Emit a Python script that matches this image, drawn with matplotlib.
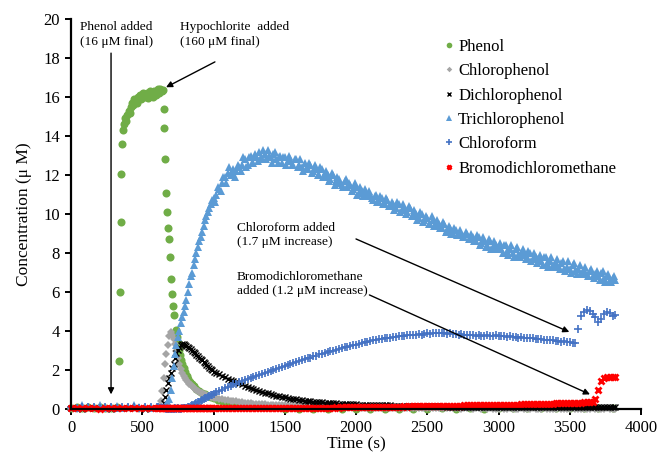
import matplotlib
matplotlib.use("Agg")
import matplotlib.pyplot as plt

plt.rcParams['font.family'] = ['Liberation Serif', 'DejaVu Serif']

# ---------------- data ----------------
# shared sampling times (s) for the chlorinated products
time_s = [
    0, 40, 80, 120, 160, 200, 240, 280, 320, 360,
    400, 440, 480, 520, 560,
    600, 610, 620, 630, 640, 650, 660, 670, 680, 690,
    700, 710, 720, 730, 740, 750, 760, 770, 780, 790,
    800, 810, 820, 830, 840, 850, 860, 870, 880, 890,
    900, 910, 920, 930, 940, 950, 960, 970, 980, 990,
    1000, 1020, 1040, 1060, 1080, 1100, 1120, 1140, 1160, 1180,
    1200, 1220, 1240, 1260, 1280, 1300, 1320, 1340, 1360, 1380,
    1400, 1420, 1440, 1460, 1480, 1500, 1520, 1540, 1560, 1580,
    1600, 1620, 1640, 1660, 1680, 1700, 1720, 1740, 1760, 1780,
    1800, 1820, 1840, 1860, 1880, 1900, 1920, 1940, 1960, 1980,
    2000, 2020, 2040, 2060, 2080, 2100, 2120, 2140, 2160, 2180,
    2200, 2220, 2240, 2260, 2280, 2300, 2320, 2340, 2360, 2380,
    2400, 2420, 2440, 2460, 2480, 2500, 2520, 2540, 2560, 2580,
    2600, 2620, 2640, 2660, 2680, 2700, 2720, 2740, 2760, 2780,
    2800, 2820, 2840, 2860, 2880, 2900, 2920, 2940, 2960, 2980,
    3000, 3020, 3040, 3060, 3080, 3100, 3120, 3140, 3160, 3180,
    3200, 3220, 3240, 3260, 3280, 3300, 3320, 3340, 3360, 3380,
    3400, 3420, 3440, 3460, 3480, 3500, 3520, 3540, 3560, 3580,
    3600, 3620, 3640, 3660, 3680, 3700, 3720, 3740, 3760, 3780,
    3800, 3820,
]

chlorophenol = [
    0.04, 0.02, 0.05, 0.03, 0.04, 0.02, 0.05, 0.03, 0.04, 0.05,
    0.03, 0.04, 0.02, 0.05, 0.03,
    0.04, 0.05, 0.10, 0.40, 0.90, 1.60, 2.30, 2.80, 3.30, 3.75,
    3.95, 3.80, 3.60, 3.35, 3.00, 2.60, 2.30, 2.05, 1.85, 1.70,
    1.58, 1.48, 1.40, 1.30, 1.22, 1.16, 1.10, 1.04, 0.98, 0.93,
    0.88, 0.84, 0.80, 0.77, 0.74, 0.71, 0.68, 0.65, 0.62, 0.60,
    0.58, 0.55, 0.52, 0.50, 0.47, 0.45, 0.43, 0.41, 0.39, 0.37,
    0.35, 0.33, 0.31, 0.30, 0.28, 0.27, 0.26, 0.25, 0.24, 0.23,
    0.22, 0.21, 0.20, 0.19, 0.19, 0.18, 0.17, 0.17, 0.16, 0.16,
    0.15, 0.15, 0.14, 0.14, 0.13, 0.13, 0.12, 0.12, 0.12, 0.11,
    0.11, 0.11, 0.10, 0.10, 0.10, 0.09, 0.09, 0.09, 0.08, 0.08,
    0.08, 0.08, 0.07, 0.07, 0.07, 0.07, 0.06, 0.06, 0.06, 0.06,
    0.06, 0.05, 0.05, 0.05, 0.05, 0.05, 0.05, 0.04, 0.04, 0.04,
    0.04, 0.05, 0.04, 0.03, 0.04, 0.04, 0.03, 0.04, 0.03, 0.04,
    0.03, 0.04, 0.03, 0.03, 0.04, 0.03, 0.03, 0.02, 0.03, 0.03,
    0.03, 0.02, 0.03, 0.03, 0.02, 0.03, 0.02, 0.03, 0.02, 0.02,
    0.02, 0.03, 0.02, 0.02, 0.03, 0.02, 0.02, 0.02, 0.03, 0.02,
    0.02, 0.02, 0.03, 0.02, 0.02, 0.02, 0.03, 0.02, 0.02, 0.02,
    0.02, 0.03, 0.02, 0.02, 0.02, 0.02, 0.03, 0.02, 0.02, 0.02,
    0.02, 0.02, 0.02, 0.03, 0.02, 0.02, 0.02, 0.02, 0.03, 0.02,
    0.02, 0.02,
]

dichlorophenol = [
    0.03, 0.05, 0.02, 0.04, 0.03, 0.05, 0.04, 0.02, 0.03, 0.04,
    0.05, 0.03, 0.04, 0.02, 0.03,
    0.03, 0.03, 0.04, 0.05, 0.10, 0.30, 0.60, 1.00, 1.35, 1.60,
    1.85, 2.10, 2.30, 2.60, 2.85, 3.05, 3.20, 3.30, 3.35, 3.35,
    3.30, 3.25, 3.20, 3.15, 3.08, 3.00, 2.92, 2.85, 2.78, 2.70,
    2.63, 2.56, 2.49, 2.42, 2.35, 2.28, 2.20, 2.12, 2.05, 1.98,
    1.92, 1.85, 1.78, 1.70, 1.63, 1.56, 1.50, 1.44, 1.38, 1.32,
    1.26, 1.20, 1.14, 1.08, 1.02, 0.97, 0.92, 0.88, 0.84, 0.80,
    0.76, 0.72, 0.68, 0.65, 0.62, 0.59, 0.56, 0.53, 0.51, 0.49,
    0.47, 0.45, 0.43, 0.41, 0.39, 0.38, 0.36, 0.35, 0.34, 0.33,
    0.32, 0.31, 0.30, 0.29, 0.28, 0.27, 0.26, 0.26, 0.25, 0.24,
    0.24, 0.23, 0.22, 0.22, 0.21, 0.21, 0.20, 0.20, 0.19, 0.19,
    0.18, 0.18, 0.18, 0.17, 0.17, 0.17, 0.16, 0.16, 0.16, 0.15,
    0.15, 0.15, 0.15, 0.14, 0.14, 0.14, 0.14, 0.13, 0.13, 0.13,
    0.13, 0.13, 0.12, 0.12, 0.12, 0.12, 0.12, 0.11, 0.11, 0.11,
    0.11, 0.11, 0.11, 0.10, 0.10, 0.10, 0.10, 0.10, 0.10, 0.10,
    0.10, 0.09, 0.10, 0.09, 0.10, 0.09, 0.09, 0.10, 0.09, 0.09,
    0.09, 0.09, 0.08, 0.09, 0.09, 0.08, 0.09, 0.08, 0.09, 0.08,
    0.08, 0.09, 0.08, 0.08, 0.09, 0.08, 0.08, 0.08, 0.09, 0.08,
    0.08, 0.08, 0.09, 0.08, 0.08, 0.08, 0.09, 0.08, 0.08, 0.08,
    0.08, 0.08,
]

trichlorophenol = [
    0.12, 0.05, 0.20, 0.08, 0.10, 0.22, 0.06, 0.12, 0.15, 0.04,
    0.10, 0.18, 0.08, 0.12, 0.06,
    0.10, 0.08, 0.12, 0.10, 0.10, 0.12, 0.15, 0.20, 0.30, 0.50,
    1.00, 1.60, 2.20, 2.80, 3.30, 3.70, 4.00, 4.40, 4.70, 5.00,
    5.30, 5.60, 6.00, 6.40, 6.80, 7.00, 7.40, 7.70, 8.00, 8.30,
    8.60, 8.80, 9.10, 9.40, 9.70, 9.90, 10.10, 10.30, 10.50, 10.70,
    10.8, 11.0, 11.3, 11.6, 11.9, 12.1, 12.0, 12.3, 12.2, 12.4,
    12.5, 12.8, 12.5, 13.0, 12.6, 12.9, 13.2, 12.8, 13.1, 13.3,
    12.9, 13.1, 12.8, 12.9, 12.6, 12.9, 12.7, 12.8, 12.5, 12.8,
    12.5, 12.4, 12.6, 12.3, 12.5, 12.2, 12.3, 12.0, 12.3, 11.9,
    12.0, 11.8, 12.0, 11.7, 11.8, 11.5, 11.7, 11.4, 11.5, 11.3,
    11.4, 11.1, 11.2, 11.3, 10.9, 11.0, 10.7, 11.0, 10.6, 10.8,
    10.5, 10.7, 10.4, 10.5, 10.3, 10.5, 10.2, 10.3, 10.1, 10.3,
    9.9, 10.0, 9.8, 10.0, 9.7, 9.8, 9.5, 9.7, 9.4, 9.5,
    9.3, 9.5, 9.2, 9.3, 9.0, 9.2, 8.9, 9.0, 8.8, 9.0,
    8.7, 8.8, 8.6, 8.8, 8.5, 8.6, 8.4, 8.6, 8.3, 8.4,
    8.3, 8.2, 8.4, 8.1, 8.2, 8.0, 8.2, 7.9, 8.0, 7.9,
    7.8, 8.0, 7.7, 7.8, 7.7, 7.6, 7.8, 7.5, 7.6, 7.4,
    7.5, 7.3, 7.5, 7.2, 7.3, 7.2, 7.4, 7.1, 7.2, 7.0,
    7.1, 6.9, 7.1, 6.8, 6.9, 6.8, 7.0, 6.7, 6.8, 6.6,
    6.7, 6.6,
]

# extra trichlorophenol readings taken between the 20 s samples
trichlorophenol_mid_time_s = [
    1010, 1030, 1050, 1070, 1090, 1110, 1130, 1150, 1170, 1190,
    1210, 1230, 1250, 1270, 1290, 1310, 1330, 1350, 1370, 1390,
    1410, 1430, 1450, 1470, 1490, 1510, 1530, 1550, 1570, 1590,
    1610, 1630, 1650, 1670, 1690, 1710, 1730, 1750, 1770, 1790,
    1810, 1830, 1850, 1870, 1890, 1910, 1930, 1950, 1970, 1990,
    2010, 2030, 2050, 2070, 2090, 2110, 2130, 2150, 2170, 2190,
    2210, 2230, 2250, 2270, 2290, 2310, 2330, 2350, 2370, 2390,
    2410, 2430, 2450, 2470, 2490, 2510, 2530, 2550, 2570, 2590,
    2610, 2630, 2650, 2670, 2690, 2710, 2730, 2750, 2770, 2790,
    2810, 2830, 2850, 2870, 2890, 2910, 2930, 2950, 2970, 2990,
    3010, 3030, 3050, 3070, 3090, 3110, 3130, 3150, 3170, 3190,
    3210, 3230, 3250, 3270, 3290, 3310, 3330, 3350, 3370, 3390,
    3410, 3430, 3450, 3470, 3490, 3510, 3530, 3550, 3570, 3590,
    3610, 3630, 3650, 3670, 3690, 3710, 3730, 3750, 3770, 3790,
    3810,
]
trichlorophenol_mid = [
    10.6, 11.4, 11.2, 11.9, 11.6, 12.4, 12.1, 11.9, 12.5, 12.2,
    12.9, 12.4, 12.9, 12.6, 13.1, 12.7, 12.9, 13.3, 12.8, 13.0,
    12.6, 13.2, 12.6, 13.0, 12.9, 12.5, 13.0, 12.5, 12.8, 12.4,
    12.8, 12.2, 12.3, 12.6, 12.1, 12.5, 12.0, 12.4, 11.9, 12.2,
    11.7, 12.1, 11.5, 11.9, 11.6, 11.4, 11.8, 11.6, 11.2, 11.6,
    11.0, 11.4, 10.9, 11.1, 11.2, 10.8, 10.9, 10.6, 10.9, 10.5,
    10.8, 10.4, 10.6, 10.2, 10.6, 10.1, 10.5, 10.0, 10.4, 9.9,
    10.2, 9.7, 10.1, 9.6, 9.9, 9.5, 9.9, 9.4, 9.7, 9.3,
    9.6, 9.1, 9.4, 9.0, 9.3, 8.9, 9.2, 8.8, 9.1, 8.7,
    9.0, 8.6, 8.9, 8.4, 8.8, 8.3, 8.7, 8.2, 8.6, 8.2,
    8.5, 8.0, 8.4, 7.9, 8.4, 7.8, 8.3, 7.8, 8.2, 7.7,
    8.1, 7.6, 8.0, 7.5, 7.9, 7.4, 7.8, 7.3, 7.8, 7.3,
    7.7, 7.2, 7.6, 7.1, 7.6, 7.0, 7.5, 6.9, 7.4, 6.9,
    7.3, 6.8, 7.2, 6.7, 7.1, 6.6, 7.1, 6.5, 6.9, 6.5,
    6.8,
]

chloroform = [
    0.10, 0.06, 0.12, 0.08, 0.10, 0.06, 0.11, 0.09, 0.07, 0.12,
    0.08, 0.10, 0.06, 0.11, 0.09,
    0.08, 0.10, 0.07, 0.05, 0.04, 0.03, 0.03, 0.02, 0.02, 0.02,
    0.02, 0.02, 0.02, 0.03, 0.02, 0.03, 0.02, 0.02, 0.03, 0.03,
    0.04, 0.05, 0.08, 0.10, 0.14, 0.18, 0.22, 0.26, 0.30, 0.34,
    0.38, 0.42, 0.46, 0.50, 0.54, 0.58, 0.62, 0.66, 0.70, 0.74,
    0.78, 0.86, 0.92, 1.00, 1.08, 1.12, 1.20, 1.26, 1.30, 1.36,
    1.42, 1.47, 1.52, 1.60, 1.64, 1.70, 1.76, 1.80, 1.86, 1.90,
    1.96, 2.00, 2.06, 2.10, 2.16, 2.20, 2.26, 2.30, 2.36, 2.40,
    2.44, 2.50, 2.54, 2.60, 2.64, 2.70, 2.74, 2.80, 2.84, 2.88,
    2.92, 2.96, 3.00, 3.04, 3.08, 3.12, 3.16, 3.20, 3.24, 3.28,
    3.30, 3.34, 3.38, 3.42, 3.45, 3.48, 3.52, 3.55, 3.58, 3.60,
    3.62, 3.64, 3.66, 3.70, 3.70, 3.72, 3.74, 3.76, 3.78, 3.78,
    3.80, 3.82, 3.84, 3.82, 3.86, 3.88, 3.86, 3.90, 3.88, 3.90,
    3.92, 3.88, 3.86, 3.90, 3.84, 3.86, 3.82, 3.84, 3.80, 3.82,
    3.78, 3.80, 3.76, 3.78, 3.74, 3.76, 3.78, 3.74, 3.76, 3.78,
    3.76, 3.72, 3.74, 3.70, 3.72, 3.68, 3.70, 3.66, 3.68, 3.64,
    3.66, 3.62, 3.64, 3.60, 3.58, 3.60, 3.56, 3.54, 3.56, 3.52,
    3.50, 3.48, 3.46, 3.48, 3.44, 3.42, 3.40, 3.38, 4.10, 4.75,
    5.00, 5.08, 5.02, 4.85, 4.70, 4.45, 4.60, 4.85, 5.00, 4.90,
    4.75, 4.80,
]

bromodichloromethane = [
    0.05, 0.03, 0.06, 0.04, 0.05, 0.02, 0.06, 0.04, 0.05, 0.03,
    0.04, 0.06, 0.03, 0.05, 0.04,
    0.04, 0.03, 0.04, 0.03, 0.04, 0.03, 0.03, 0.04, 0.03, 0.04,
    0.03, 0.03, 0.04, 0.03, 0.03, 0.04, 0.03, 0.03, 0.04, 0.03,
    0.03, 0.04, 0.03, 0.03, 0.04, 0.03, 0.03, 0.04, 0.03, 0.03,
    0.04, 0.03, 0.03, 0.04, 0.03, 0.03, 0.04, 0.03, 0.03, 0.04,
    0.03, 0.03, 0.04, 0.03, 0.03, 0.04, 0.03, 0.04, 0.03, 0.04,
    0.04, 0.03, 0.04, 0.04, 0.04, 0.03, 0.04, 0.04, 0.05, 0.04,
    0.04, 0.05, 0.04, 0.05, 0.05, 0.04, 0.05, 0.05, 0.05, 0.06,
    0.05, 0.06, 0.05, 0.06, 0.06, 0.06, 0.06, 0.07, 0.06, 0.07,
    0.07, 0.07, 0.07, 0.08, 0.07, 0.08, 0.08, 0.08, 0.08, 0.09,
    0.09, 0.09, 0.09, 0.10, 0.09, 0.10, 0.10, 0.10, 0.10, 0.11,
    0.11, 0.11, 0.11, 0.12, 0.12, 0.12, 0.12, 0.13, 0.12, 0.13,
    0.13, 0.13, 0.14, 0.14, 0.14, 0.15, 0.14, 0.15, 0.15, 0.15,
    0.16, 0.16, 0.16, 0.17, 0.16, 0.17, 0.17, 0.17, 0.18, 0.18,
    0.18, 0.18, 0.19, 0.19, 0.19, 0.20, 0.19, 0.20, 0.20, 0.21,
    0.21, 0.21, 0.22, 0.22, 0.22, 0.23, 0.23, 0.23, 0.24, 0.24,
    0.24, 0.25, 0.25, 0.26, 0.26, 0.26, 0.27, 0.27, 0.28, 0.28,
    0.29, 0.29, 0.30, 0.30, 0.31, 0.31, 0.32, 0.32, 0.33, 0.33,
    0.34, 0.35, 0.36, 0.37, 0.50, 1.00, 1.45, 1.60, 1.65, 1.66,
    1.64, 1.65,
]

# phenol has its own sampling times
phenol_time_s = [
    0, 40, 80, 120, 160, 200, 240, 280, 320,
    340, 344, 348, 354, 360, 366, 372, 380, 388, 396,
    404, 412, 420, 428, 436, 444, 452, 460, 468, 476,
    484, 492, 500, 508, 516, 524, 532, 540, 548, 556,
    564, 572, 580, 588, 596, 604, 612, 620, 628, 636, 644,
    652, 656, 661, 669, 676, 683, 688, 695, 704, 712, 718, 726, 734,
    742, 750, 758, 766, 774, 782, 790, 800, 812, 824, 836, 848, 860, 880, 900,
    920, 940, 960, 980, 1000, 1030, 1060, 1090, 1120, 1160, 1200, 1250, 1300, 1350, 1400,
    1500, 1600, 1700, 1800, 1900, 2000, 2100, 2200, 2300, 2400, 2500, 2600,
    2700, 2800, 2900, 3000, 3100, 3200, 3300, 3400, 3500, 3600, 3700, 3800,
]
phenol = [
    0.05, 0.08, 0.04, 0.10, 0.06, 0.09, 0.05, 0.07, 0.12,
    2.45, 6.0, 9.6, 12.05, 13.6, 14.3, 14.6, 14.9, 14.75, 15.1,
    15.3, 15.2, 15.5, 15.7, 15.6, 15.9, 15.8, 15.7, 16.0, 15.9,
    16.1, 15.9, 16.0, 16.2, 16.0, 16.1, 16.2, 15.95, 16.1, 16.3,
    16.2, 16.0, 16.3, 16.2, 16.1, 16.3, 16.4, 16.2, 16.4, 16.3, 16.35,
    15.4, 14.4, 12.8, 11.1, 10.1, 9.3, 8.7, 7.8, 6.65, 5.9, 5.3, 4.8, 4.05,
    3.7, 3.4, 3.05, 2.75, 2.5, 2.3, 2.1, 1.9, 1.7, 1.55, 1.4, 1.3, 1.2, 1.05, 0.92,
    0.82, 0.75, 0.68, 0.62, 0.56, 0.48, 0.42, 0.37, 0.32, 0.27, 0.22, 0.17, 0.13, 0.10, 0.08,
    0.02, 0.0, -0.02, 0.0, -0.02, 0.01, -0.01, 0.02, 0.0, 0.01, 0.02, 0.03,
    0.02, 0.03, 0.02, 0.03, 0.04, 0.03, 0.04, 0.05, 0.05, 0.06, 0.05, 0.06,
]

series_names = ["Phenol", "Chlorophenol", "Dichlorophenol", "Trichlorophenol",
                "Chloroform", "Bromodichloromethane"]

for arr in (chlorophenol, dichlorophenol, trichlorophenol, chloroform, bromodichloromethane):
    assert len(arr) == len(time_s), len(arr)
assert len(phenol) == len(phenol_time_s)
assert len(trichlorophenol_mid) == len(trichlorophenol_mid_time_s)

# ---------------- figure ----------------
fig = plt.figure(figsize=(6.59, 4.58), dpi=100)
ax = fig.add_axes([71 / 659, 49 / 458, 570 / 659, 390 / 458])

styles = [
    dict(marker='o', color='#70AD47', ms=5.8, mew=0),
    dict(marker='D', color='#A5A5A5', ms=4.0, mew=0),
    dict(marker='x', color='#000000', ms=4.4, mew=1.0),
    dict(marker='^', color='#5B9BD5', ms=6.0, mew=0),
    dict(marker='+', color='#4472C4', ms=5.8, mew=1.2),
    dict(marker='x', color='#FF0000', ms=5.0, mew=2.0),
]
tcp_pairs = sorted(zip(time_s + trichlorophenol_mid_time_s,
                       trichlorophenol + trichlorophenol_mid))
xs = [phenol_time_s, time_s, time_s, [p[0] for p in tcp_pairs], time_s, time_s]
ys = [phenol, chlorophenol, dichlorophenol, [p[1] for p in tcp_pairs],
      chloroform, bromodichloromethane]

for name, x, y, st in zip(series_names, xs, ys, styles):
    ax.plot(x, y, ls='none', label=name, clip_on=False, **st)

ax.set_xlim(0, 4000)
ax.set_ylim(0, 20)
ax.set_xticks(range(0, 4001, 500))
ax.set_yticks(range(0, 21, 2))
for s in ('top', 'right'):
    ax.spines[s].set_visible(False)
for s in ('left', 'bottom'):
    ax.spines[s].set_linewidth(1.6)
    ax.spines[s].set_color('black')
ax.tick_params(direction='out', length=4, width=1.4, labelsize=12, pad=4)

ax.set_xlabel('Time (s)', fontsize=12.5, labelpad=0)
ax.set_ylabel('Concentration (μ M)', fontsize=12.5, labelpad=8)

leg = ax.legend(loc='upper left', bbox_to_anchor=(444 / 659, 1 - 39 / 458),
                bbox_transform=fig.transFigure, frameon=False, fontsize=12,
                handlelength=0.6, handletextpad=0.25, labelspacing=0.5,
                markerscale=0.7, borderpad=0, borderaxespad=0)

# annotations
fs = 9.6
ls_ = 1.3
ax.text(63, 19.9, 'Phenol added\n(16 μM final)', fontsize=fs, ha='left', va='top', linespacing=ls_)
ax.text(765, 19.9, 'Hypochlorite  added\n(160 μM final)', fontsize=fs, ha='left', va='top', linespacing=ls_)
ax.text(1163, 9.6, 'Chloroform added\n(1.7 μM increase)', fontsize=fs, ha='left', va='top', linespacing=ls_)
ax.text(1163, 7.1, 'Bromodichloromethane\nadded (1.2 μM increase)', fontsize=fs, ha='left', va='top', linespacing=ls_)

arrow = dict(arrowstyle='-|>', color='black', lw=1.0, mutation_scale=9, shrinkA=0, shrinkB=0)
ax.annotate('', xy=(281, 0.75), xytext=(281, 18.25), arrowprops=arrow, annotation_clip=False)
ax.annotate('', xy=(667, 16.5), xytext=(1010, 17.8), arrowprops=arrow, annotation_clip=False)
ax.annotate('', xy=(3497, 3.95), xytext=(2000, 8.72), arrowprops=arrow, annotation_clip=False)
ax.annotate('', xy=(3642, 0.75), xytext=(2094, 5.85), arrowprops=arrow, annotation_clip=False)

fig.savefig('out.png', dpi=100)
